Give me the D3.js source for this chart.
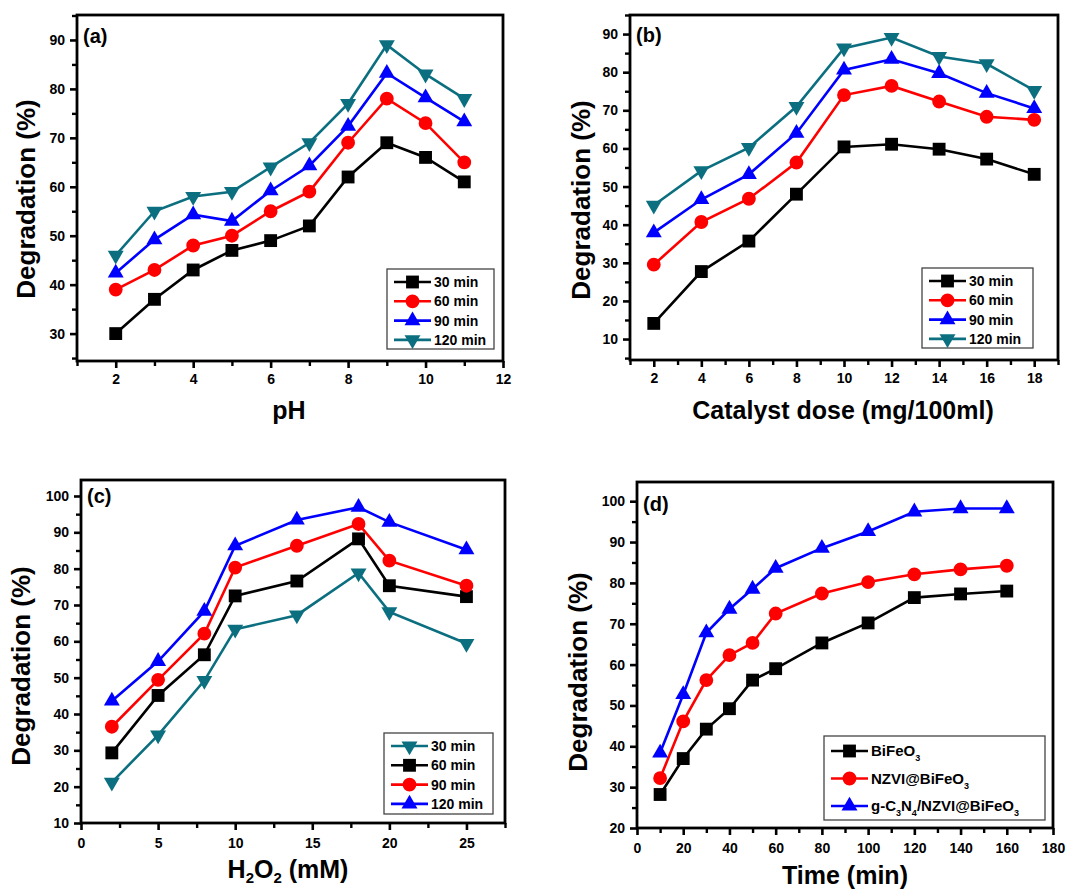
<!DOCTYPE html>
<html>
<head>
<meta charset="utf-8">
<title>Degradation plots</title>
<script src="https://cdn.jsdelivr.net/npm/d3@7"></script>
<style>
  body { margin: 0; background: #fff; }
  svg { display: block; }
  text { font-family: Arial, "Liberation Sans", sans-serif; font-weight: bold; fill: #000; }
</style>
</head>
<body>
<div id="chart"></div>
<script>
// ---- data ----
var pH = [2, 3, 4, 5, 6, 7, 8, 9, 10, 11];
var pH_30 = [30, 37, 43, 47, 49, 52, 62, 69, 66, 61];
var pH_60 = [39, 43, 48, 50, 55, 59, 69, 78, 73, 65];
var pH_90 = [42.4, 49.2, 54.3, 53, 59.2, 64.3, 72.4, 83.2, 78.2, 73.3];
var pH_120 = [46, 55, 58, 59, 64, 69, 77, 89, 83, 78];

var dose = [2, 4, 6, 8, 10, 12, 14, 16, 18];
var dose_30 = [14.1, 27.7, 35.7, 48, 60.4, 61.1, 59.8, 57.2, 53.2];
var dose_60 = [29.5, 40.7, 46.8, 56.3, 74, 76.4, 72.3, 68.3, 67.5];
var dose_90 = [37.9, 46.6, 53.2, 64, 80.6, 83.4, 79.7, 74.5, 70.5];
var dose_120 = [45.1, 54.1, 60.2, 71, 86.3, 89.1, 84.1, 82.2, 75.2];

var h2o2 = [2, 5, 8, 10, 14, 18, 20, 25];
var h2o2_30 = [21.2, 34.2, 49.2, 63.3, 67.2, 78.8, 68.1, 59.4];
var h2o2_60 = [29.3, 45.1, 56.3, 72.5, 76.6, 88.2, 75.3, 72.3];
var h2o2_90 = [36.5, 49.4, 62.1, 80.3, 86.3, 92.3, 82.2, 75.3];
var h2o2_120 = [43.6, 54.5, 68.3, 86.3, 93.4, 96.9, 92.8, 85.2];

var time = [10, 20, 30, 40, 50, 60, 80, 100, 120, 140, 160];
var bifeo3 = [28.2, 37, 44.2, 49.2, 56.2, 59, 65.3, 70.2, 76.4, 77.3, 78];
var nzvi = [32.2, 46.1, 56.2, 62.3, 65.3, 72.5, 77.4, 80.2, 82.1, 83.3, 84.2];
var gcn = [38.4, 52.7, 67.8, 73.6, 78.5, 83.6, 88.5, 92.6, 97.4, 98.2, 98.2];

var timeLabels = ["30 min", "60 min", "90 min", "120 min"];
var catalystLabels = [["BiFeO", "3"], ["NZVI@BiFeO", "3"], ["g-C", "3", "N", "4", "/NZVI@BiFeO", "3"]];

// ---- styles per series ----
var BLACK = "#000000", RED = "#ff0000", BLUE = "#0000ff", TEAL = "#0b6f80";
var sq = {shape: d3.symbolSquare, size: 165, rot: 0};
var ci = {shape: d3.symbolCircle, size: 150, rot: 0};
var up = {shape: d3.symbolTriangle, size: 110, rot: 0};
var dn = {shape: d3.symbolTriangle, size: 110, rot: 180};

var svg = d3.select("#chart").append("svg").attr("width", 1069).attr("height", 892);

function panel(cfg) {
  var g = svg.append("g");
  var x = d3.scaleLinear().domain(cfg.xd).range([cfg.l, cfg.r]);
  var y = d3.scaleLinear().domain(cfg.yd).range([cfg.b, cfg.t]);

  // minor ticks
  g.append("g").attr("transform", "translate(0," + cfg.b + ")")
    .call(d3.axisBottom(x).tickValues(cfg.xMinor).tickSize(5).tickFormat(""))
    .call(function(s){ s.select(".domain").remove(); s.selectAll("line").attr("stroke-width", 2.4); });
  g.append("g").attr("transform", "translate(" + cfg.l + ",0)")
    .call(d3.axisLeft(y).tickValues(cfg.yMinor).tickSize(5).tickFormat(""))
    .call(function(s){ s.select(".domain").remove(); s.selectAll("line").attr("stroke-width", 2.4); });

  // major ticks + labels
  g.append("g").attr("transform", "translate(0," + cfg.b + ")")
    .call(d3.axisBottom(x).tickValues(cfg.xMajor).tickSize(7).tickPadding(cfg.xPad))
    .call(function(s){
      s.select(".domain").remove();
      s.selectAll("line").attr("stroke-width", 2.6);
      s.selectAll("text").attr("font-size", 14).attr("font-family", null);
    });
  g.append("g").attr("transform", "translate(" + cfg.l + ",0)")
    .call(d3.axisLeft(y).tickValues(cfg.yMajor).tickSize(7).tickPadding(5))
    .call(function(s){
      s.select(".domain").remove();
      s.selectAll("line").attr("stroke-width", 2.6);
      s.selectAll("text").attr("font-size", 14).attr("font-family", null);
    });

  // frame
  g.append("rect").attr("x", cfg.l).attr("y", cfg.t)
    .attr("width", cfg.r - cfg.l).attr("height", cfg.b - cfg.t)
    .attr("fill", "none").attr("stroke", "#000").attr("stroke-width", 2.8);

  // series
  var line = d3.line().x(function(d){ return x(d[0]); }).y(function(d){ return y(d[1]); });
  cfg.series.forEach(function(s) {
    var pts = cfg.xs.map(function(v, i){ return [v, s.v[i]]; });
    g.append("path").datum(pts).attr("d", line)
      .attr("fill", "none").attr("stroke", s.c).attr("stroke-width", 2.6);
    g.selectAll(null).data(pts).enter().append("path")
      .attr("d", d3.symbol().type(s.m.shape).size(s.m.size))
      .attr("transform", function(d){ return "translate(" + x(d[0]) + "," + y(d[1]) + ") rotate(" + s.m.rot + ")"; })
      .attr("fill", s.c);
  });

  // legend
  var L = cfg.leg;
  g.append("rect").attr("x", L.x).attr("y", L.y).attr("width", L.w).attr("height", L.h)
    .attr("fill", "#fff").attr("stroke", "#444").attr("stroke-width", 1.3);
  cfg.series.forEach(function(s, i) {
    var yy = L.y + L.first + i * L.step;
    g.append("line").attr("x1", L.x + 7).attr("x2", L.x + 7 + L.len).attr("y1", yy).attr("y2", yy)
      .attr("stroke", s.c).attr("stroke-width", 2.6);
    g.append("path").attr("d", d3.symbol().type(s.m.shape).size(s.m.size))
      .attr("transform", "translate(" + (L.x + 7 + L.len / 2) + "," + yy + ") rotate(" + s.m.rot + ")")
      .attr("fill", s.c);
    var t = g.append("text").attr("x", L.x + 10 + L.len).attr("y", yy + 5).attr("font-size", L.fs);
    var parts = Array.isArray(s.name) ? s.name : [s.name];
    parts.forEach(function(p, k) {
      var sub = k % 2 === 1;
      t.append("tspan").text(p).attr("font-size", sub ? 9 : L.fs)
        .attr("dy", sub ? 5 : (k > 0 ? -5 : 0));
    });
  });

  // panel tag
  g.append("text").attr("x", cfg.l + 6).attr("y", cfg.t + cfg.tagY).attr("font-size", 20).text(cfg.tag);

  // y title
  g.append("text").attr("transform", "translate(" + cfg.ytx + "," + cfg.yty + ") rotate(-90)")
    .attr("text-anchor", "middle").attr("font-size", 26).text("Degradation (%)");

  // x title
  var xt = g.append("text").attr("x", cfg.xtx).attr("y", cfg.xty)
    .attr("text-anchor", "middle").attr("font-size", 25);
  cfg.xTitle.forEach(function(p, k) {
    var sub = k % 2 === 1;
    xt.append("tspan").text(p).attr("font-size", sub ? 15 : 25).attr("dy", sub ? 5 : (k > 0 ? -5 : 0));
  });
}

function range(a, b, s) { return d3.range(a, b + s / 2, s); }

panel({
  l: 77, r: 503, t: 15, b: 361, xd: [1, 12], yd: [24.4, 95.1],
  xMajor: range(2, 12, 2), xMinor: range(1, 11, 2), yMajor: range(30, 90, 10), yMinor: range(25, 95, 10),
  xPad: 6, xs: pH, tag: "(a)", tagY: 28,
  series: [
    {v: pH_30, c: BLACK, m: sq, name: timeLabels[0]},
    {v: pH_60, c: RED, m: ci, name: timeLabels[1]},
    {v: pH_90, c: BLUE, m: up, name: timeLabels[2]},
    {v: pH_120, c: TEAL, m: dn, name: timeLabels[3]}
  ],
  leg: {x: 387, y: 269, w: 107, h: 80, first: 13, step: 19.3, len: 37, fs: 14},
  ytx: 35, yty: 199, xtx: 289, xty: 419, xTitle: ["pH"]
});

panel({
  l: 630, r: 1058, t: 15, b: 360, xd: [1, 19], yd: [4.5, 95],
  xMajor: range(2, 18, 2), xMinor: range(1, 19, 2), yMajor: range(10, 90, 10), yMinor: range(5, 95, 10),
  xPad: 6, xs: dose, tag: "(b)", tagY: 27,
  series: [
    {v: dose_30, c: BLACK, m: sq, name: timeLabels[0]},
    {v: dose_60, c: RED, m: ci, name: timeLabels[1]},
    {v: dose_90, c: BLUE, m: up, name: timeLabels[2]},
    {v: dose_120, c: TEAL, m: dn, name: timeLabels[3]}
  ],
  leg: {x: 922, y: 268, w: 111, h: 80, first: 13, step: 19.3, len: 37, fs: 14},
  ytx: 590, yty: 200, xtx: 843, xty: 419, xTitle: ["Catalyst dose (mg/100ml)"]
});

panel({
  l: 81, r: 505, t: 480, b: 823, xd: [0, 27.5], yd: [10, 104.4],
  xMajor: range(0, 25, 5), xMinor: range(2.5, 27.5, 5), yMajor: range(10, 100, 10), yMinor: range(15, 100, 10),
  xPad: 8, xs: h2o2, tag: "(c)", tagY: 23,
  series: [
    {v: h2o2_30, c: TEAL, m: dn, name: timeLabels[0]},
    {v: h2o2_60, c: BLACK, m: sq, name: timeLabels[1]},
    {v: h2o2_90, c: RED, m: ci, name: timeLabels[2]},
    {v: h2o2_120, c: BLUE, m: up, name: timeLabels[3]}
  ],
  leg: {x: 384, y: 733, w: 109, h: 81, first: 13, step: 19.3, len: 37, fs: 14},
  ytx: 30, yty: 666, xtx: 288, xty: 878, xTitle: ["H", "2", "O", "2", " (mM)"]
});

panel({
  l: 637, r: 1053, t: 482, b: 828, xd: [0, 180], yd: [20, 104.7],
  xMajor: range(0, 180, 20), xMinor: range(10, 170, 20), yMajor: range(20, 100, 10), yMinor: range(25, 100, 10),
  xPad: 8, xs: time, tag: "(d)", tagY: 29,
  series: [
    {v: bifeo3, c: BLACK, m: sq, name: catalystLabels[0]},
    {v: nzvi, c: RED, m: ci, name: catalystLabels[1]},
    {v: gcn, c: BLUE, m: up, name: catalystLabels[2]}
  ],
  leg: {x: 824, y: 736, w: 221, h: 84, first: 15, step: 27.5, len: 37, fs: 15},
  ytx: 587, yty: 672, xtx: 845, xty: 884, xTitle: ["Time (min)"]
});
</script>
</body>
</html>
